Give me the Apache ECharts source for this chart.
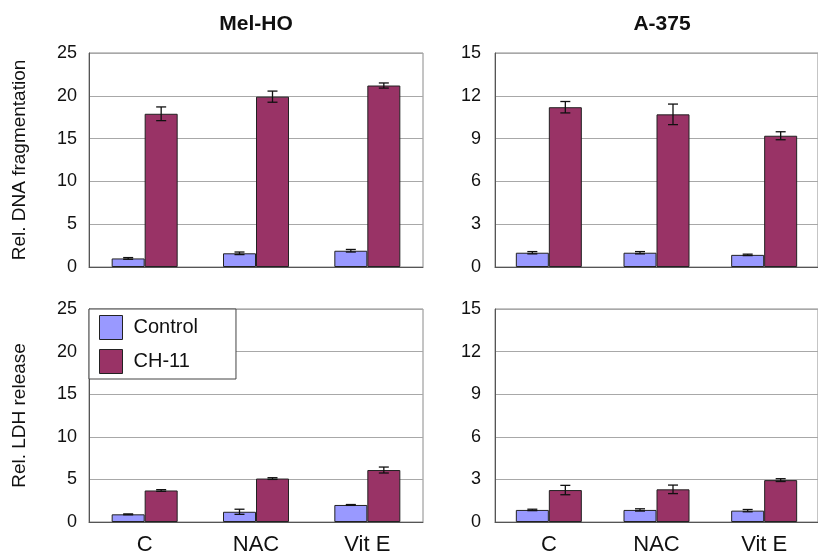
<!DOCTYPE html>
<html>
<head>
<meta charset="utf-8">
<script src="https://cdn.jsdelivr.net/npm/echarts@6/dist/echarts.min.js"></script>
<style>html,body{margin:0;padding:0;background:#fff}#c{width:818px;height:558px}</style>
</head>
<body>
<div id="c"></div>
<script>
// ---- data ----
const categories = ['C', 'NAC', 'Vit E'];
const panelTitles = ['Mel-HO', 'A-375'];
const yNames = ['Rel. DNA fragmentation', 'Rel. LDH release'];
const seriesNames = ['Control', 'CH-11'];

const dnaMelControl = [1.0, 1.6, 1.9];
const dnaMelControlErr = [0.1, 0.15, 0.15];
const dnaMelCH11 = [17.9, 19.9, 21.2];
const dnaMelCH11Err = [0.8, 0.65, 0.3];

const dnaA375Control = [1.0, 1.0, 0.85];
const dnaA375ControlErr = [0.08, 0.08, 0.05];
const dnaA375CH11 = [11.2, 10.7, 9.2];
const dnaA375CH11Err = [0.4, 0.72, 0.28];

const ldhMelControl = [0.9, 1.2, 2.0];
const ldhMelControlErr = [0.05, 0.3, 0.05];
const ldhMelCH11 = [3.7, 5.1, 6.1];
const ldhMelCH11Err = [0.1, 0.1, 0.35];

const ldhA375Control = [0.85, 0.85, 0.8];
const ldhA375ControlErr = [0.05, 0.08, 0.08];
const ldhA375CH11 = [2.25, 2.3, 2.95];
const ldhA375CH11Err = [0.33, 0.3, 0.1];

const yMax = [25, 15, 25, 15];
const yInterval = [5, 3, 5, 3];

// ---- styling ----
const FONT = 'Liberation Sans, Arial, sans-serif';
const COLORS = ['#9999ff', '#993366'];
const BAR_W = 33;

const panels = [
  { c: dnaMelControl, ce: dnaMelControlErr, t: dnaMelCH11, te: dnaMelCH11Err },
  { c: dnaA375Control, ce: dnaA375ControlErr, t: dnaA375CH11, te: dnaA375CH11Err },
  { c: ldhMelControl, ce: ldhMelControlErr, t: ldhMelCH11, te: ldhMelCH11Err },
  { c: ldhA375Control, ce: ldhA375ControlErr, t: ldhA375CH11, te: ldhA375CH11Err }
];

const grids = [
  { left: 89, top: 53, width: 334, height: 214 },
  { left: 495, top: 53, width: 335, height: 214 },
  { left: 89, top: 309, width: 334, height: 213 },
  { left: 495, top: 309, width: 335, height: 213 }
].map(g => Object.assign(g, { show: true, borderColor: '#8a8a8a', borderWidth: 1, backgroundColor: '#fff' }));

const xAxes = grids.map((g, i) => ({
  type: 'category', gridIndex: i, data: categories,
  axisLine: { show: true, lineStyle: { color: '#555', width: 1 } },
  axisTick: { show: false },
  axisLabel: { show: i >= 2, fontSize: 22, fontFamily: FONT, color: '#111', margin: 12 }
}));

const yAxes = grids.map((g, i) => ({
  type: 'value', gridIndex: i, min: 0, max: yMax[i], interval: yInterval[i],
  name: (i % 2 === 0) ? yNames[i / 2] : '',
  nameLocation: 'middle', nameRotate: 90, nameGap: 60,
  nameTextStyle: { fontSize: 19, fontFamily: FONT, color: '#111' },
  axisLine: { show: true, lineStyle: { color: '#555', width: 1 } },
  axisTick: { show: false },
  axisLabel: { fontSize: 18, fontFamily: FONT, color: '#111', margin: (i % 2 === 0) ? 12 : 14 },
  splitLine: { show: true, lineStyle: { color: '#a8a8a8', width: 1 } }
}));

function errSeries(idx, vals, errs, sign, name) {
  return {
    type: 'custom', name: name, xAxisIndex: idx, yAxisIndex: idx, z: 5,
    data: vals.map((v, k) => [k, v, errs[k]]),
    renderItem: function (params, api) {
      const x = api.value(0), v = api.value(1), e = api.value(2);
      const hi = api.coord([x, v + e]);
      const lo = api.coord([x, v - e]);
      const cx = hi[0] + sign * BAR_W / 2;
      const cap = 5;
      const st = { stroke: '#111', lineWidth: 1.3 };
      return {
        type: 'group', children: [
          { type: 'line', shape: { x1: cx, y1: hi[1], x2: cx, y2: lo[1] }, style: st },
          { type: 'line', shape: { x1: cx - cap, y1: hi[1], x2: cx + cap, y2: hi[1] }, style: st },
          { type: 'line', shape: { x1: cx - cap, y1: lo[1], x2: cx + cap, y2: lo[1] }, style: st }
        ]
      };
    }
  };
}

const series = [];
panels.forEach((p, i) => {
  series.push({
    type: 'bar', name: seriesNames[0], xAxisIndex: i, yAxisIndex: i, data: p.c,
    barWidth: BAR_W, barGap: '0%',
    itemStyle: { color: COLORS[0], borderColor: '#222', borderWidth: 1 }
  });
  series.push({
    type: 'bar', name: seriesNames[1], xAxisIndex: i, yAxisIndex: i, data: p.t,
    barWidth: BAR_W, barGap: '0%',
    itemStyle: { color: COLORS[1], borderColor: '#222', borderWidth: 1 }
  });
  series.push(errSeries(i, p.c, p.ce, -1, 'err-c-' + i));
  series.push(errSeries(i, p.t, p.te, 1, 'err-t-' + i));
});

const chart = echarts.init(document.getElementById('c'), null, { renderer: 'canvas' });
chart.setOption({
  animation: false,
  backgroundColor: '#fff',
  graphic: [
    { type: 'text', x: 256, y: 24, style: { text: panelTitles[0], font: 'bold 21px ' + FONT, fill: '#111', align: 'center', verticalAlign: 'middle' } },
    { type: 'text', x: 662, y: 24, style: { text: panelTitles[1], font: 'bold 21px ' + FONT, fill: '#111', align: 'center', verticalAlign: 'middle' } }
  ],
  legend: {
    data: seriesNames, orient: 'vertical', left: 89, top: 309,
    icon: 'rect',
    padding: [6, 38, 5, 10], itemGap: 9, itemWidth: 23, itemHeight: 24,
    backgroundColor: '#fff', borderColor: '#444', borderWidth: 1,
    textStyle: { fontSize: 20, fontFamily: FONT, color: '#111', padding: [0, 0, 0, 6] },
    itemStyle: { borderColor: '#222', borderWidth: 1 },
    selectedMode: false
  },
  grid: grids,
  xAxis: xAxes,
  yAxis: yAxes,
  series: series
});
</script>
</body>
</html>
